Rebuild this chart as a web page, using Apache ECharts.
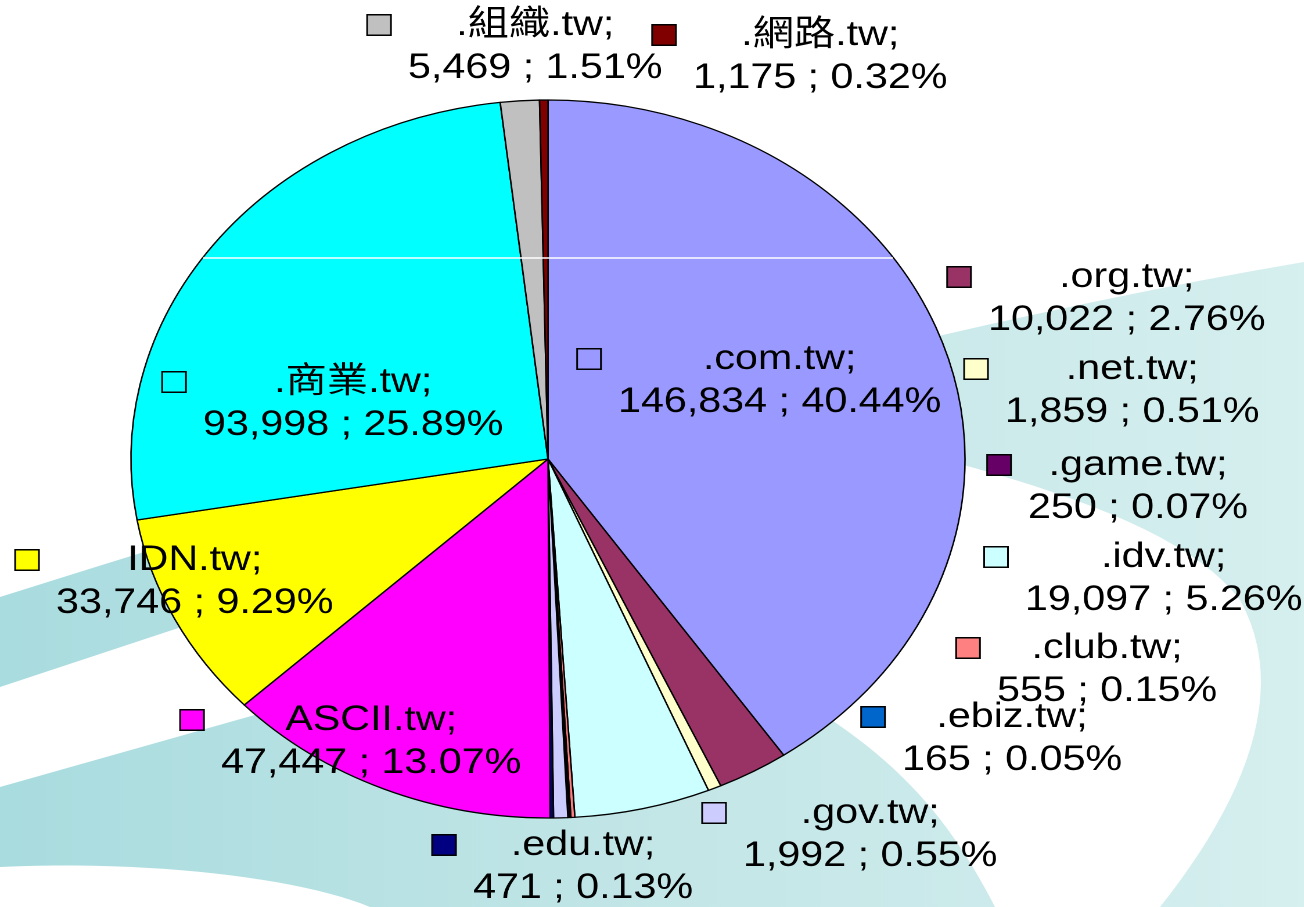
<!DOCTYPE html>
<html>
<head>
<meta charset="utf-8">
<script src="https://cdn.jsdelivr.net/npm/echarts@6/dist/echarts.min.js"></script>
<style>
html, body { margin: 0; padding: 0; background: #fff; overflow: hidden; }
/* the original slide is stretched sideways, so the whole chart is drawn narrow and widened */
#chart { width: 1123px; height: 907px; transform: scaleX(1.16156); transform-origin: 0 0; }
</style>
</head>
<body>
<div id="chart"></div>
<script>
// slices clockwise from 12 o'clock
var names = ['.com.tw', '.org.tw', '.net.tw', '.idv.tw', '.club.tw', '.ebiz.tw', '.game.tw', '.gov.tw', '.edu.tw', 'ASCII.tw', 'IDN.tw', '.商業.tw', '.組織.tw', '.網路.tw'];
var counts = [146834, 10022, 1859, 19097, 555, 165, 250, 1992, 471, 47447, 33746, 93998, 5469, 1175];
var colors = ['#9999ff', '#993366', '#ffffcc', '#ccffff', '#ff8080', '#0066cc', '#660066', '#ccccff', '#000080', '#ff00ff', '#ffff00', '#00ffff', '#c0c0c0', '#800000'];

// where each label sits on the page: left edge of its key box, middle of first line
var labelAnchors = [[578, 359], [948, 277], [965, 369], [985, 557], [957, 648], [862, 717], [988, 465],
    [703, 813], [433, 845], [181, 720], [16, 560], [163, 382], [368, 25], [653, 35]];

var S = 417 / 359;          // horizontal stretch of the page
var FONT = "'Liberation Sans', Arial, 'Noto Sans CJK TC', sans-serif";
var FS = 35.5, LH = 43, BOX = 19;
var GAP = 40 / S;           // key box left edge -> value text start

var total = counts.reduce(function (a, b) { return a + b; }, 0);

function richFor(color) {
    return {
        box: { width: BOX, height: BOX, backgroundColor: color, borderColor: '#000', borderWidth: 1.5, lineHeight: LH },
        name: { fontSize: FS, fontFamily: FONT, color: '#000', lineHeight: LH, align: 'center', padding: [0, 0, 0, GAP - BOX] },
        val: { fontSize: FS, fontFamily: FONT, color: '#000', lineHeight: LH, padding: [0, 0, 0, GAP] }
    };
}

// background swoosh outlines, built from a few cubic curves (page px)
function curve(p0, p1, p2, p3) {
    var pts = [];
    for (var i = 0; i <= 24; i++) {
        var t = i / 24, u = 1 - t;
        pts.push([
            u * u * u * p0[0] + 3 * u * u * t * p1[0] + 3 * u * t * t * p2[0] + t * t * t * p3[0],
            u * u * u * p0[1] + 3 * u * u * t * p1[1] + 3 * u * t * t * p2[1] + t * t * t * p3[1]
        ]);
    }
    return pts;
}

var tealShape = curve([0, 597], [400, 470], [900, 330], [1304, 262]).concat([[1304, 907], [0, 907]]);
var whiteBand = [[0, 687], [520, 515], [520, 640], [0, 787]];
var whiteHook = curve([820, 430], [1000, 470], [1180, 520], [1240, 600])
    .concat(curve([1240, 600], [1290, 690], [1245, 800], [1160, 907]))
    .concat([[995, 907]])
    .concat(curve([995, 907], [950, 820], [900, 760], [800, 700]));
var whiteTip = curve([0, 867], [150, 860], [300, 878], [370, 907]).concat([[0, 907]]);

var chartDom = document.getElementById('chart');
var myChart = echarts.init(chartDom, null, { renderer: 'canvas', devicePixelRatio: 2 });

var tealFill = {
    type: 'linear', x: 0, y: 0, x2: 1, y2: 0,
    colorStops: [
        { offset: 0, color: '#a9dcdf' },
        { offset: 0.5, color: '#c3e6e7' },
        { offset: 1, color: '#d6efef' }
    ]
};

var option = {
    animation: false,
    backgroundColor: '#fff',
    graphic: [{
        type: 'group',
        scaleX: 1 / S,
        silent: true,
        children: [
            { type: 'polygon', z: 0, shape: { points: tealShape }, style: { fill: tealFill } },
            { type: 'polygon', z: 0, shape: { points: whiteBand }, style: { fill: '#fff' } },
            { type: 'polygon', z: 0, shape: { points: whiteHook }, style: { fill: '#fff' } },
            { type: 'polygon', z: 0, shape: { points: whiteTip }, style: { fill: '#fff' } },
            // thin white streak across the pie
            { type: 'line', z: 10, shape: { x1: 203, y1: 258, x2: 893, y2: 258 }, style: { stroke: '#fff', lineWidth: 1.5 } }
        ]
    }],
    series: [{
        type: 'pie',
        z: 2,
        center: [548 / S, 459],
        radius: 359,
        startAngle: 90,
        clockwise: true,
        avoidLabelOverlap: false,
        emphasis: { disabled: true },
        itemStyle: { borderColor: '#000', borderWidth: 1.3 },
        label: {
            show: true,
            position: 'outside',
            color: '#000',
            fontFamily: FONT,
            fontSize: FS,
            lineHeight: LH,
            formatter: function (p) {
                var pct = (p.value / total * 100).toFixed(2);
                return '{box|}{name|' + p.name + ';}\n{val|' + p.value.toLocaleString('en-US') + ' ; ' + pct + '%}';
            }
        },
        labelLine: { show: false },
        labelLayout: function (params) {
            var a = labelAnchors[params.dataIndex];
            return { x: a[0] / S, y: a[1] - LH / 2, align: 'left', verticalAlign: 'top' };
        },
        data: names.map(function (n, i) {
            return {
                name: n,
                value: counts[i],
                itemStyle: { color: colors[i] },
                label: { rich: richFor(colors[i]) }
            };
        })
    }]
};

myChart.setOption(option);
</script>
</body>
</html>
